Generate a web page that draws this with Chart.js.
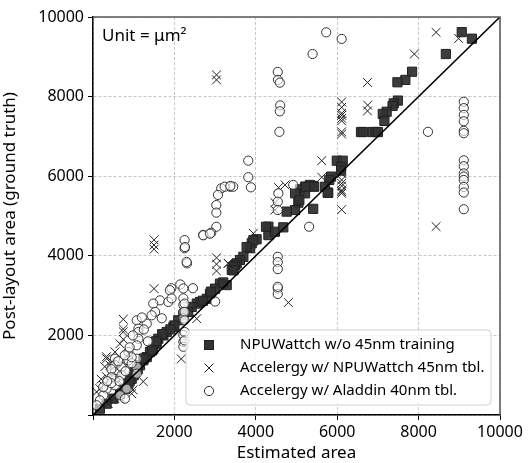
<!DOCTYPE html>
<html>
<head>
<meta charset="utf-8">
<script src="https://cdn.jsdelivr.net/npm/chart.js@4.4.0/dist/chart.umd.min.js"></script>
<style>
  html, body { margin: 0; padding: 0; background: #fff; }
  #wrap { width: 532px; height: 463px; }
</style>
</head>
<body>
<div id="wrap"><canvas id="areaChart" width="532" height="463"></canvas></div>
<script>
// axis ticks
const tickValues = [0, 2000, 4000, 6000, 8000, 10000];

// NPUWattch w/o 45nm training (squares)
const npuEst = [9060, 9310, 8670, 7840, 7675, 7480, 7490, 7390, 7360, 7215, 7120, 7160, 6585, 6630, 6870, 6950, 7000,
  5990, 6135, 6095, 6095, 5850, 5805, 5700, 5780, 5410, 5330, 5210, 5085, 5210, 4965, 5045, 4965, 4760, 5410, 5070, 5235, 5435, 5765,
  4310, 4310, 4470, 4675, 4250, 4020, 3900, 3860, 3940, 3775, 3695, 3610, 3530, 3490, 3450, 3410, 3450, 3285, 3120, 3000, 2875,
  2795, 2630, 2550, 2425, 2340, 2220, 2095, 1975, 1810, 1730, 1605, 1565, 1480, 1400, 1320, 1235, 1155, 1030, 950, 870, 785, 665,
  500, 335, 170, 3200, 2900, 2700, 2000, 1900, 1700, 1550, 1450, 1250, 1100, 1000, 900];
const npuPost = [9620, 9455, 9070, 8625, 8420, 8360, 7900, 7830, 7765, 7620, 7565, 7390, 7110, 7110, 7110, 7110, 7110,
  6390, 6390, 6240, 6140, 5990, 5905, 5735, 5585, 5755, 5780, 5735, 5670, 5570, 5570, 5335, 5150, 5110, 5180, 5400, 5735, 5735, 5585,
  4730, 4520, 4605, 4715, 4730, 4415, 4315, 4190, 4390, 4220, 3975, 3895, 3810, 3760, 3725, 3645, 3635, 3265, 3300, 3175, 3045,
  2920, 2840, 2800, 2715, 2590, 2505, 2380, 2210, 2085, 2000, 1915, 1790, 1665, 1585, 1455, 1375, 1250, 1080, 910, 785, 660, 535,
  410, 285, 160, 3330, 3100, 2870, 2250, 2150, 2030, 1850, 1620, 1420, 1150, 1000, 850];

// Accelergy w/ NPUWattch 45nm tbl. (crosses)
const accNpuEst = [8430, 8985, 7895, 6745, 6750, 6745,
  6110, 6110, 6110, 6110, 6110, 6110, 6110, 6110,
  5620, 5620, 6110, 6110, 6110, 6110, 6110, 6110, 6110, 6110,
  8430, 4560, 4720, 4470, 4470, 3940, 3325, 3035, 3035,
  3035, 3035, 3035, 3320, 1500, 1500, 1500, 1500,
  745, 745, 745, 745, 2170, 1235, 950, 540, 660, 375, 335, 420, 500, 580, 90, 170, 255, 540, 660,
  330, 290, 330, 985, 655, 4800, 2550, 2300, 200, 450, 600, 800];
const accNpuPost = [9615, 9460, 9070, 8355, 7785, 7640,
  7865, 7730, 7580, 7530, 7455, 7390, 7115, 7060,
  6390, 5975, 6070, 5905, 5820, 5755, 5650, 5570, 5610, 5160,
  4735, 5715, 5780, 5150, 5335, 4565, 3810, 8545, 8420,
  3950, 3790, 3620, 3810, 4400, 4270, 4165, 3175,
  2405, 2160, 2090, 1900, 1410, 840, 535, 410, 450, 285, 1415, 1250, 1080, 910, 580, 660, 745, 1585, 1790,
  1465, 1215, 965, 630, 420, 2825, 2420, 2710, 900, 1350, 1150, 1250];

// Accelergy w/ Aladdin 40nm tbl. (circles)
const accAlaEst = [5730, 6110, 5395, 4540, 4545, 4590, 4600, 4590, 4580, 8230,
  9110, 9110, 9110, 9110, 9110, 9110, 9110, 9110, 9110, 9110, 9110, 9110, 9110, 9110,
  5310, 4540, 4540, 4540, 4540, 4540, 4540,
  3815, 3815, 3880, 3365, 3445, 4555, 4540, 4540, 4920,
  3150, 3235, 3375, 3070, 3030, 3030, 3030, 2905, 2705, 2250, 2250, 2310, 2260, 2300, 2710, 2875,
  1925, 2145, 2455, 1890, 1645, 1850, 1480, 1525, 1440, 1320, 1075, 1115, 1115, 1115, 1075, 870, 870,
  1075, 1075, 1075, 540, 540, 540, 540, 540, 335, 255, 170, 90, 665, 825, 785,
  2220, 2220, 2220, 2220, 2220, 2220, 2220, 2220, 2250, 2250, 2250, 2250, 2250,
  1690, 3000, 1930, 700, 700, 450, 450, 450, 650, 800, 950, 950, 900,
  250, 350, 620, 780, 1250, 1350, 980, 1200];
const accAlaPost = [9615, 9450, 9070, 8620, 8420, 8350, 7780, 7630, 7115, 7115,
  7870, 7710, 7540, 7380, 7140, 7080, 6400, 6250, 6070, 5990, 5905, 5730, 5590, 5170,
  4730, 3975, 3840, 3665, 3180, 3040, 3220,
  6390, 5975, 5720, 5735, 5735, 5570, 5360, 5150, 5780,
  5695, 5735, 5755, 5530, 5275, 5085, 4730, 4580, 4525, 4395, 4190, 3810, 4220, 3845, 4515, 4555,
  3185, 3280, 3185, 3135, 2880, 2840, 2800, 2590, 2505, 2295, 2380, 2170, 2085, 1915, 1750, 1585, 1375,
  1415, 1205, 1040, 1415, 1250, 1080, 910, 745, 660, 495, 370, 245, 495, 660, 410,
  3180, 2930, 2765, 2595, 2430, 2010, 1840, 1715, 2800, 2590, 2380, 2085, 1875,
  2430, 2850, 2930, 1200, 1000, 1150, 950, 800, 850, 1100, 1300, 1450, 1700,
  700, 850, 1350, 1500, 2150, 1850, 2000, 2450];

const pts = (xs, ys) => xs.map((x, i) => ({ x: x, y: ys[i] }));

const FONT = "'Noto Sans', 'Open Sans', sans-serif";

const legendItems = [
  { label: 'NPUWattch w/o 45nm training', style: 'rect' },
  { label: 'Accelergy w/ NPUWattch 45nm tbl.', style: 'cross' },
  { label: 'Accelergy w/ Aladdin 40nm tbl.', style: 'circle' }
];

function drawMarker(ctx, style, x, y) {
  ctx.save();
  if (style === 'rect') {
    ctx.fillStyle = '#333';
    ctx.strokeStyle = '#222';
    ctx.lineWidth = 1;
    ctx.fillRect(x - 4.5, y - 4.5, 9, 9);
    ctx.strokeRect(x - 4.5, y - 4.5, 9, 9);
  } else if (style === 'cross') {
    ctx.strokeStyle = '#222';
    ctx.lineWidth = 1;
    ctx.beginPath();
    ctx.moveTo(x - 4.5, y - 4.5); ctx.lineTo(x + 4.5, y + 4.5);
    ctx.moveTo(x - 4.5, y + 4.5); ctx.lineTo(x + 4.5, y - 4.5);
    ctx.stroke();
  } else {
    ctx.strokeStyle = '#333';
    ctx.fillStyle = '#fff';
    ctx.lineWidth = 1;
    ctx.beginPath();
    ctx.arc(x, y, 4.6, 0, Math.PI * 2);
    ctx.fill();
    ctx.stroke();
  }
  ctx.restore();
}

const overlay = {
  id: 'overlay',
  afterDraw(chart) {
    const { ctx, chartArea: a } = chart;
    ctx.save();
    // top and right frame
    ctx.strokeStyle = '#555';
    ctx.lineWidth = 1.5;
    ctx.beginPath();
    ctx.moveTo(a.left, a.top);
    ctx.lineTo(a.right, a.top);
    ctx.lineTo(a.right, a.bottom);
    ctx.stroke();

    // unit label
    ctx.fillStyle = '#000';
    ctx.font = '17px ' + FONT;
    ctx.textBaseline = 'alphabetic';
    ctx.fillText('Unit = μm²', a.left + 9, a.top + 24);

    // legend box
    const bx = 186, by = 330, bw = 305, bh = 75;
    ctx.beginPath();
    ctx.roundRect(bx, by, bw, bh, 4);
    ctx.fillStyle = 'rgba(255,255,255,0.8)';
    ctx.fill();
    ctx.strokeStyle = '#d0d0d0';
    ctx.lineWidth = 1;
    ctx.stroke();

    ctx.font = '15px ' + FONT;
    ctx.textBaseline = 'middle';
    legendItems.forEach((it, i) => {
      const y = 345 + i * 23;
      drawMarker(ctx, it.style, 209, y);
      ctx.fillStyle = '#000';
      ctx.fillText(it.label, 240, y);
    });
    ctx.restore();
  }
};

const gridOpts = {
  color: '#c8c8c8',
  lineWidth: 1,
  tickColor: '#000',
  tickLength: 5,
  tickBorderDash: []
};

new Chart(document.getElementById('areaChart'), {
  data: {
    datasets: [
      {
        type: 'line',
        label: 'y = x',
        data: [{ x: 0, y: 0 }, { x: 10000, y: 10000 }],
        borderColor: '#000',
        borderWidth: 1.6,
        pointRadius: 0,
        fill: false
      },
      {
        type: 'scatter',
        label: 'Accelergy w/ Aladdin 40nm tbl.',
        data: pts(accAlaEst, accAlaPost),
        pointStyle: 'circle',
        pointRadius: 4.6,
        borderWidth: 1,
        borderColor: '#333',
        backgroundColor: 'rgba(255,255,255,0.6)'
      },
      {
        type: 'scatter',
        label: 'Accelergy w/ NPUWattch 45nm tbl.',
        data: pts(accNpuEst, accNpuPost),
        pointStyle: 'crossRot',
        pointRadius: 6.2,
        borderWidth: 1,
        borderColor: '#222'
      },
      {
        type: 'scatter',
        label: 'NPUWattch w/o 45nm training',
        data: pts(npuEst, npuPost),
        pointStyle: 'rect',
        pointRadius: 6.5,
        borderWidth: 1,
        borderColor: '#222',
        backgroundColor: 'rgba(51,51,51,0.95)'
      }
    ]
  },
  options: {
    responsive: false,
    animation: false,
    layout: { padding: { top: 17, right: 32, left: 0, bottom: 0 } },
    plugins: { legend: { display: false }, tooltip: { enabled: false } },
    scales: {
      x: {
        type: 'linear',
        min: 0, max: 10000,
        afterBuildTicks: s => { s.ticks = tickValues.map(v => ({ value: v })); },
        afterFit: s => { s.height = 48; },
        grid: gridOpts,
        border: { color: '#000', width: 1.5, dash: [3, 2] },
        ticks: {
          color: '#000',
          padding: 3,
          font: { family: FONT, size: 16 },
          callback: v => (v === 0 ? '' : String(v))
        },
        title: { display: true, text: 'Estimated area', color: '#000', padding: { top: 0, bottom: 0 }, font: { family: FONT, size: 17 } }
      },
      y: {
        type: 'linear',
        min: 0, max: 10000,
        afterBuildTicks: s => { s.ticks = tickValues.map(v => ({ value: v })); },
        afterFit: s => { s.width = 93; },
        grid: gridOpts,
        border: { color: '#000', width: 1.5, dash: [3, 2] },
        ticks: {
          color: '#000',
          padding: 4,
          font: { family: FONT, size: 16 },
          callback: v => (v === 0 ? '' : String(v))
        },
        title: { display: true, text: 'Post-layout area (ground truth)', color: '#000', padding: { top: 0, bottom: 2 }, font: { family: FONT, size: 17 } }
      }
    }
  },
  plugins: [overlay]
});
</script>
</body>
</html>
